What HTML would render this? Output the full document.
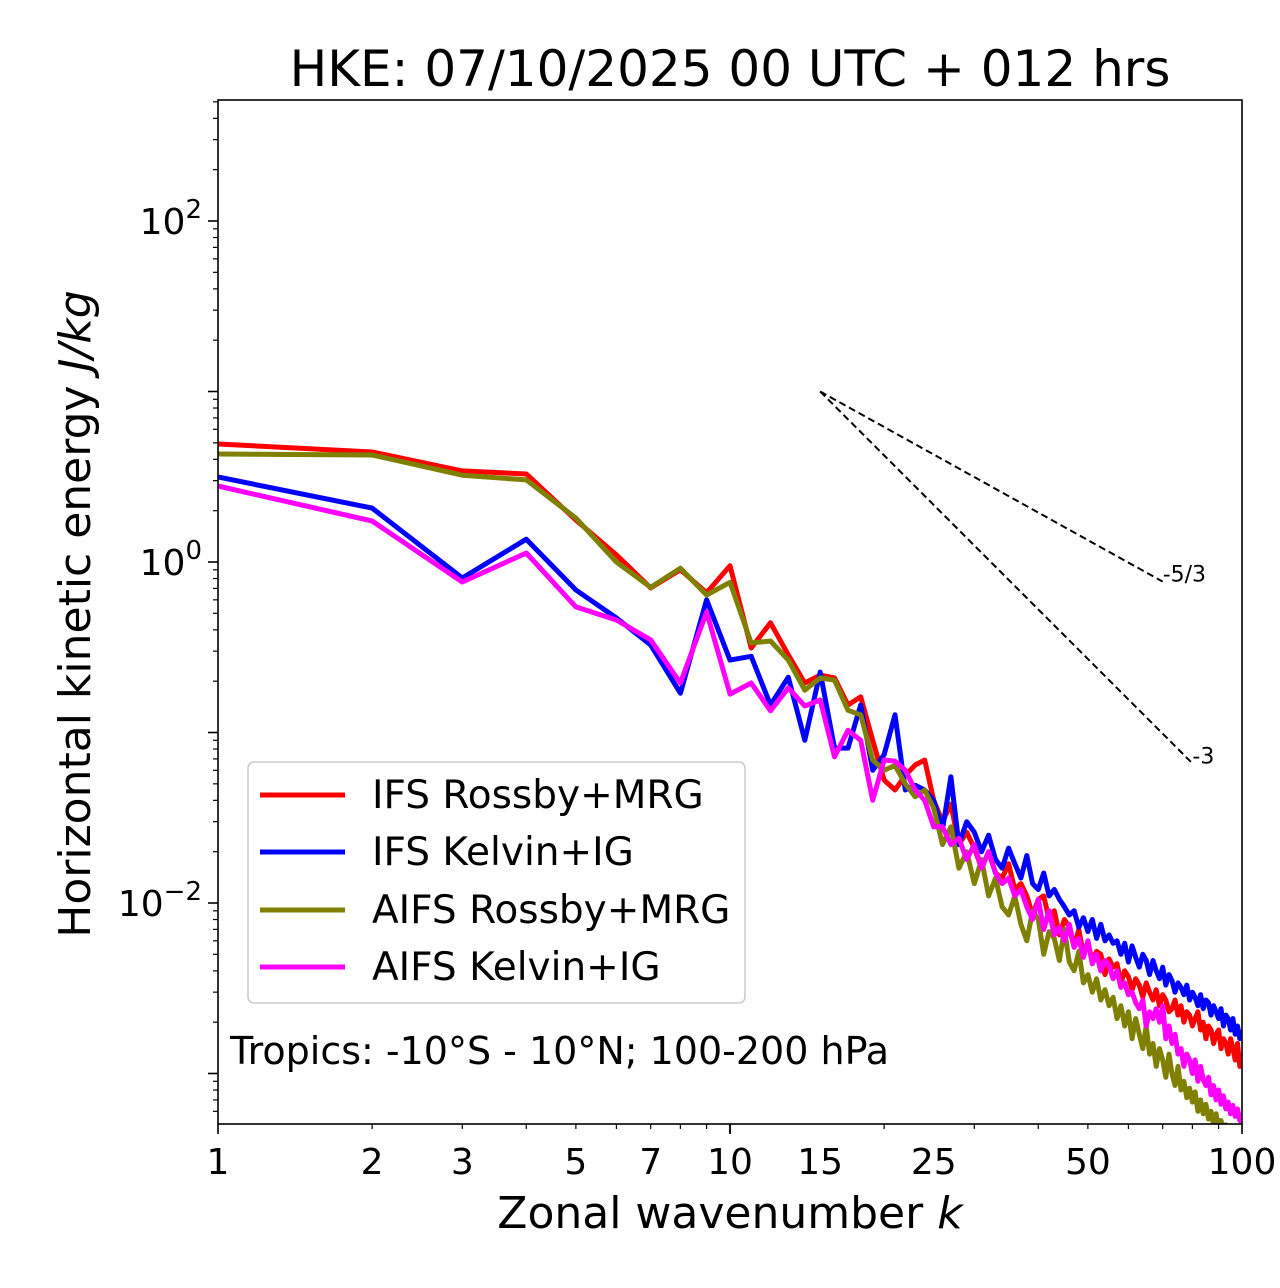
<!DOCTYPE html>
<html><head><meta charset="utf-8"><style>
body{margin:0;background:#fff}
svg{display:block;font-family:"DejaVu Sans","Liberation Sans",sans-serif}
</style></head><body>
<svg id="chart" width="1280" height="1288" xmlns="http://www.w3.org/2000/svg">
<rect width="1280" height="1288" fill="#fff"/>
<text x="730" y="86" font-size="50" text-anchor="middle">HKE: 07/10/2025 00 UTC + 012 hrs</text>
<g id="series" clip-path="url(#clip)"></g>
<defs><clipPath id="clip"><rect x="218" y="100" width="1024" height="1024"/></clipPath></defs>
<rect x="218" y="100" width="1024" height="1024" fill="none" stroke="#000" stroke-width="1.6"/>
<g id="axes"></g>
<text x="730" y="1228" font-size="44" text-anchor="middle">Zonal wavenumber <tspan font-style="italic">k</tspan></text>
<text transform="translate(90,614) rotate(-90)" font-size="44" text-anchor="middle">Horizontal kinetic energy <tspan font-style="italic">J/kg</tspan></text>
<g>
<rect x="248" y="762" width="497" height="241" rx="6" fill="#fff" fill-opacity="0.8" stroke="#ccc" stroke-width="1.6"/>
<line x1="260" y1="795" x2="345" y2="795" stroke="#ff0000" stroke-width="5"/>
<text x="372" y="808" font-size="39">IFS Rossby+MRG</text>
<line x1="260" y1="852" x2="345" y2="852" stroke="#0000ff" stroke-width="5"/>
<text x="372" y="865" font-size="39">IFS Kelvin+IG</text>
<line x1="260" y1="910" x2="345" y2="910" stroke="#808000" stroke-width="5"/>
<text x="372" y="923" font-size="39">AIFS Rossby+MRG</text>
<line x1="260" y1="967" x2="345" y2="967" stroke="#ff00ff" stroke-width="5"/>
<text x="372" y="980" font-size="39">AIFS Kelvin+IG</text>
</g>
<text x="230" y="1064" font-size="38">Tropics: -10°S - 10°N; 100-200 hPa</text>
</svg>
<script>
const ifsRossby=[4.92,4.42,3.42,3.28,1.76,1.1,0.705,0.90,0.66,0.95,0.313,0.44,0.285,0.195,0.217,0.209,0.145,0.162,0.090,0.0526,0.046,0.056,0.0645,0.069,0.040,
.030,.038,.022,.026,.021,.016,.020,.015,.014,.017,.012,.013,.011,.0085,.0105,.011,.0080,.0090,.0065,.0080,.0072,.0055,.0070,.0050,.0058,.0046,.0052,.0050,.0038,.0047,.0042,.0044,.0034,.0040,.0037,.0031,.0036,.0033,.0028,.0034,.0030,.0027,.0031,.0025,.0029,.0027,.0023,.0024,.0027,.0022,.0025,.0020,.0023,.0022,.0019,.0021,.0023,.0018,.0020,.0016,.0019,.0018,.0015,.0017,.0018,.0014,.0016,.0015,.0013,.0016,.0014,.0012,.0015,.0011,.0013];
const ifsKelvin=[3.15,2.07,0.806,1.36,0.685,0.47,0.326,0.17,0.60,0.266,0.28,0.145,0.211,0.090,0.226,0.081,0.081,0.145,0.060,0.074,0.127,0.046,0.049,0.046,0.040,
.027,.055,.022,.030,.026,.020,.025,.018,.016,.021,.017,.014,.019,.013,.012,.015,.011,.012,.0105,.0095,.0085,.0090,.0072,.0082,.0068,.0080,.0062,.0075,.0060,.0065,.0058,.0060,.0050,.0058,.0045,.0056,.0048,.0042,.0050,.0046,.0038,.0046,.0040,.0036,.0042,.0033,.0038,.0035,.0030,.0034,.0032,.0029,.0033,.0027,.0030,.0028,.0025,.0029,.0024,.0027,.0026,.0022,.0025,.0023,.0021,.0024,.0019,.0022,.0021,.0018,.0021,.0017,.0019,.0016,.0018];
const aifsRossby=[4.3,4.24,3.23,3.03,1.81,1.0,0.71,0.92,0.64,0.76,0.335,0.344,0.266,0.177,0.209,0.203,0.135,0.127,0.069,0.060,0.064,0.050,0.042,0.046,0.036,
.022,.028,.016,.020,.013,.018,.011,.014,.0095,.0085,.011,.0075,.0060,.0090,.0080,.0050,.0068,.0062,.0046,.0070,.0045,.0040,.0052,.0034,.0038,.0030,.0036,.0027,.0031,.0025,.0028,.0021,.0025,.0019,.0023,.0016,.0021,.0017,.0014,.0019,.0013,.0015,.0011,.0014,.0012,.00095,.0013,.0010,.00085,.0011,.00080,.00090,.00072,.00082,.00068,.00078,.00060,.00070,.00058,.00066,.00054,.00060,.00050,.00058,.00048,.00053,.00046,.00050,.00045,.00049,.00044,.00047,.00043,.00046,.00042];
const aifsKelvin=[2.79,1.74,0.763,1.13,0.545,0.457,0.349,0.195,0.509,0.168,0.195,0.134,0.183,0.143,0.155,0.072,0.103,0.090,0.040,0.069,0.068,0.060,0.046,0.040,0.028,
.028,.022,.024,.018,.022,.016,.020,.015,.013,.014,.011,.012,.0095,.0080,.0105,.0070,.0090,.0065,.0072,.0060,.0075,.0055,.0062,.0048,.0060,.0044,.0050,.0040,.0046,.0043,.0036,.0040,.0032,.0034,.0029,.0030,.0026,.0024,.0027,.0019,.0023,.0021,.0024,.0020,.0025,.0016,.0019,.0015,.0017,.0013,.0014,.0011,.0013,.0012,.0010,.0012,.00090,.0011,.00092,.00085,.00095,.00075,.00085,.00070,.00080,.00066,.00074,.00062,.00068,.00058,.00065,.00056,.00062,.00053,.00058];
const xTickMajor=[1,10,100];
const xTickLabels=[1,2,3,5,7,10,15,25,50,100];
const yTickMajor=[-2,0,2];
const refStartK=15, refStartVal=10, refEnd53=70, refEnd3=80;

const NS="http://www.w3.org/2000/svg";
const X0=218,X1=1242,Y0=100,Y1=1124;
const yTop=2+121/170.5, yBot=-2-221/170.5;
function xs(k){return X0+Math.log10(k)/2*(X1-X0);}
function ys(v){return Y0+(yTop-Math.log10(v))/(yTop-yBot)*(Y1-Y0);}
function mk(tag,attrs,parent){const e=document.createElementNS(NS,tag);for(const a in attrs)e.setAttribute(a,attrs[a]);parent.appendChild(e);return e;}
const axes=document.getElementById('axes'), ser=document.getElementById('series');

for(let d=0;d<2;d++)for(let m=1;m<=10;m++){const k=m*Math.pow(10,d);if(k>100)continue;const x=xs(k);const major=xTickMajor.includes(k);
 const t=mk('line',{x1:x,x2:x,y1:Y1,y2:Y1+(major?10:5),stroke:'#000','stroke-width':major?1.6:1.2},axes);
 
 }
xTickLabels.forEach(k=>{const t=mk('text',{x:xs(k),y:Y1+50,'font-size':36,'text-anchor':'middle'},axes);t.textContent=k;
 
 });
for(let e=-4;e<3;e++)for(let m=1;m<10;m++){const v=m*Math.pow(10,e);const lv=Math.log10(v);if(lv>yTop||lv<yBot)continue;const y=ys(v);
 const t=mk('line',{x1:X0-(m==1?10:5),x2:X0,y1:y,y2:y,stroke:'#000','stroke-width':m==1?1.6:1.2},axes);
 
 }
yTickMajor.forEach(e=>{const t=mk('text',{x:X0-16,y:ys(Math.pow(10,e))+13,'font-size':36,'text-anchor':'end'},axes);
 t.innerHTML='10<tspan dy="-16" font-size="26">'+(e<0?'\u2212'+(-e):e)+'</tspan>';
 
 });

function draw(arr,color,name){const pts=arr.map((v,i)=>xs(i+1).toFixed(1)+','+ys(v).toFixed(1)).join(' ');
 const p=mk('polyline',{points:pts,fill:'none',stroke:color,'stroke-width':5,'stroke-linejoin':'round'},ser);
 
 }
draw(ifsRossby,'#ff0000','ifs-rossby-line');
draw(ifsKelvin,'#0000ff','ifs-kelvin-line');
draw(aifsRossby,'#808000','aifs-rossby-line');
draw(aifsKelvin,'#ff00ff','aifs-kelvin-line');

function ref(kEnd,slope,label,name){const x1=xs(refStartK),y1=ys(refStartVal),x2=xs(kEnd),y2=ys(refStartVal*Math.pow(kEnd/refStartK,slope));
 const l=mk('line',{x1:x1,y1:y1,x2:x2,y2:y2,stroke:'#000','stroke-width':2,'stroke-dasharray':'7,4'},axes);
 
 
 const t=mk('text',{x:x2,y:y2,'font-size':22},axes);t.textContent=label;
 
 }
ref(refEnd53,-5/3,'-5/3','slope-5-3-reference');
ref(refEnd3,-3,'-3','slope-3-reference');
</script>
</body></html>
